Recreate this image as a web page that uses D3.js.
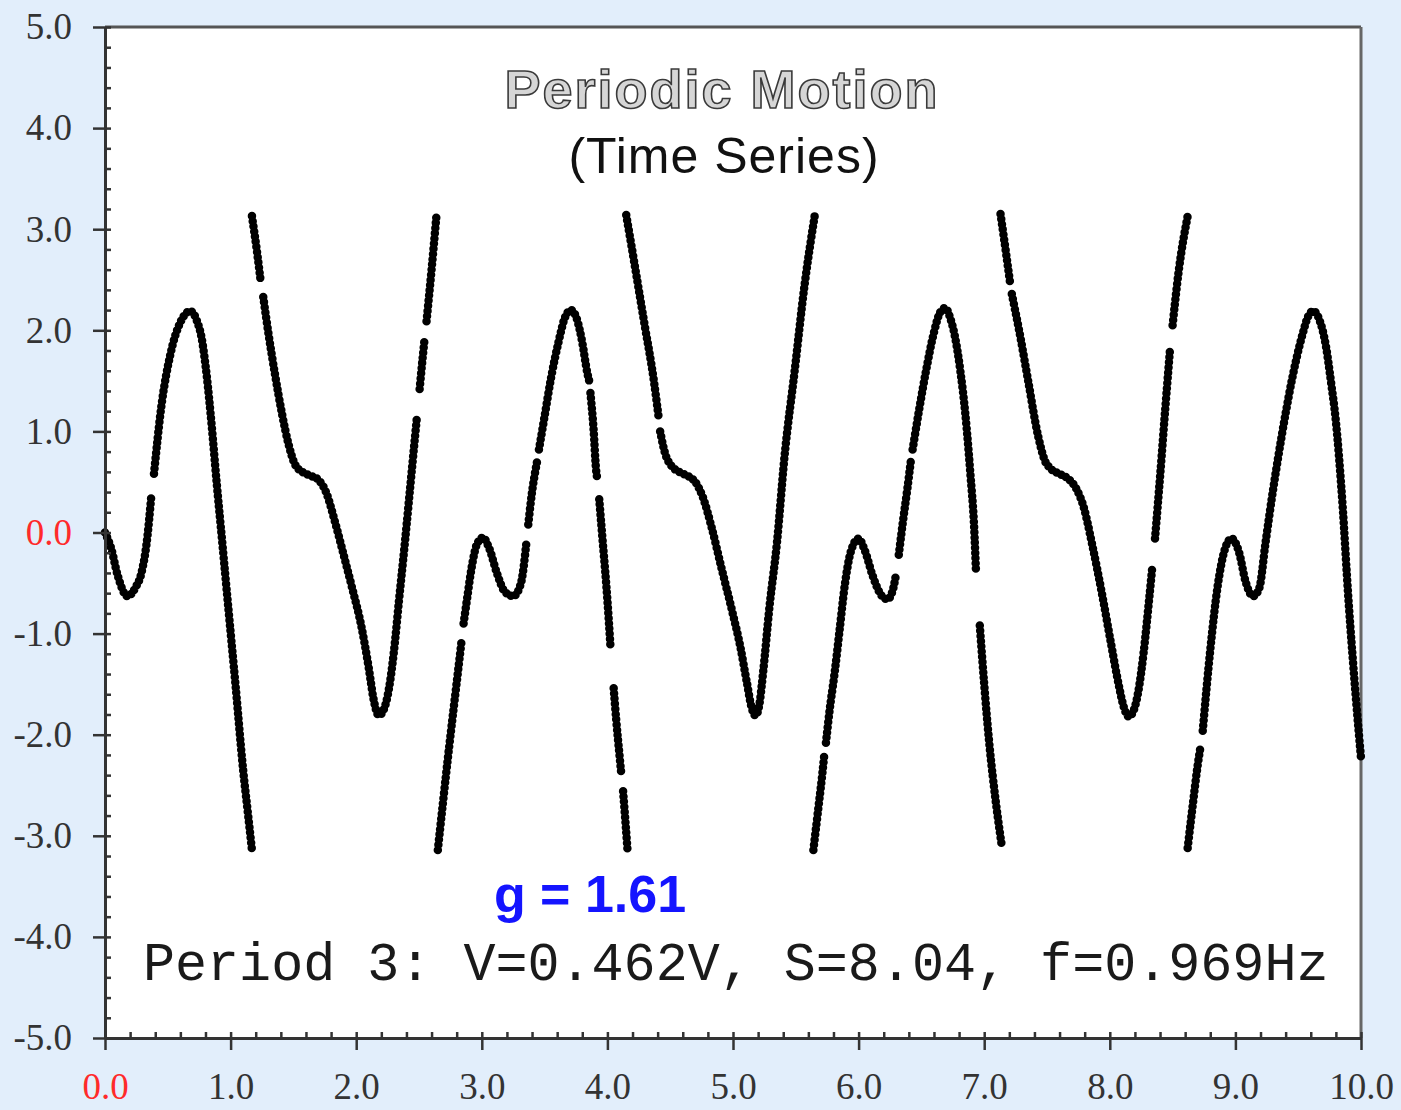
<!DOCTYPE html>
<html>
<head>
<meta charset="utf-8">
<script src="https://cdn.jsdelivr.net/npm/d3@7"></script>
<style>
  body { margin: 0; background: #e2eefb; }
  svg { display: block; }
</style>
</head>
<body>
<svg id="chart"></svg>
<script>
// pendulum angle (rad) against time (s).
// a branch stops where the angle wraps at +/- pi; null marks a small gap in the dots
const branch1 = [[0.00,0.00],[0.05,-0.16],[0.10,-0.42],[0.18,-0.63],[0.24,-0.55],[0.29,-0.40],[0.33,-0.12],[0.37,0.38],null,[0.39,0.58],[0.45,1.26],[0.52,1.76],[0.60,2.08],[0.68,2.19],[0.73,2.10],[0.77,1.92],[0.81,1.55],[0.85,1.05],[0.89,0.48],[0.93,-0.05],[0.98,-0.72],[1.04,-1.52],[1.10,-2.35],[1.14,-2.80],[1.17,-3.14]];
const branch2 = [[1.17,3.13],[1.21,2.78],[1.24,2.48],null,[1.26,2.33],[1.30,1.98],[1.35,1.59],[1.41,1.17],[1.46,0.88],[1.51,0.68],[1.57,0.60],[1.64,0.56],[1.70,0.52],[1.76,0.40],[1.83,0.11],[1.90,-0.22],[1.97,-0.56],[2.04,-0.92],[2.10,-1.34],[2.14,-1.66],[2.18,-1.81],[2.22,-1.75],[2.26,-1.55],[2.30,-1.18],[2.34,-0.68],[2.39,-0.07],[2.43,0.45],[2.47,0.97],[2.485,1.16],null,[2.505,1.42],[2.53,1.74],[2.545,1.92],null,[2.56,2.09],[2.60,2.60],[2.64,3.15]];
const branch3 = [[2.65,-3.14],[2.69,-2.68],[2.73,-2.23],[2.77,-1.80],[2.81,-1.38],[2.84,-1.06],null,[2.855,-0.90],[2.88,-0.68],[2.92,-0.34],[2.96,-0.12],[3.01,-0.05],[3.06,-0.16],[3.12,-0.40],[3.18,-0.58],[3.25,-0.63],[3.31,-0.51],[3.355,-0.10],null,[3.37,0.08],[3.40,0.40],[3.44,0.70],null,[3.455,0.82],[3.50,1.15],[3.55,1.52],[3.61,1.88],[3.66,2.12],[3.71,2.20],[3.76,2.10],[3.80,1.88],[3.84,1.58],[3.855,1.50],null,[3.865,1.38],[3.89,1.02],[3.91,0.62],[3.92,0.53],null,[3.935,0.33],[3.96,-0.05],[3.99,-0.50],[4.01,-0.85],[4.025,-1.14],null,[4.05,-1.54],[4.07,-1.85],[4.10,-2.25],[4.11,-2.38],null,[4.125,-2.56],[4.14,-2.80],[4.16,-3.14]];
const branch4 = [[4.15,3.14],[4.21,2.70],[4.29,2.10],[4.37,1.50],[4.41,1.12],null,[4.42,1.00],[4.46,0.78],[4.51,0.66],[4.57,0.60],[4.64,0.56],[4.70,0.50],[4.76,0.35],[4.83,0.05],[4.91,-0.36],[4.99,-0.76],[5.06,-1.14],[5.11,-1.48],[5.15,-1.74],[5.18,-1.81],[5.21,-1.70],[5.24,-1.38],[5.29,-0.74],[5.35,-0.10],[5.41,0.75],[5.49,1.59],[5.57,2.45],[5.65,3.13]];
const branch5 = [[5.64,-3.14],[5.68,-2.72],[5.71,-2.40],[5.725,-2.22],null,[5.74,-2.08],[5.77,-1.75],[5.81,-1.38],[5.85,-0.95],[5.89,-0.52],[5.94,-0.18],[6.00,-0.06],[6.05,-0.18],[6.11,-0.42],[6.17,-0.60],[6.23,-0.66],[6.27,-0.58],[6.30,-0.40],null,[6.32,-0.22],[6.35,0.08],[6.39,0.45],[6.415,0.70],null,[6.43,0.82],[6.48,1.20],[6.54,1.62],[6.60,1.98],[6.65,2.18],[6.69,2.22],[6.73,2.12],[6.77,1.92],[6.81,1.60],[6.85,1.17],[6.89,0.58],[6.92,0.05],[6.935,-0.40],null,[6.965,-0.92],[7.00,-1.50],[7.04,-2.08],[7.09,-2.64],[7.14,-3.10]];
const branch6 = [[7.13,3.15],[7.17,2.80],[7.205,2.48],null,[7.22,2.36],[7.29,1.92],[7.35,1.50],[7.43,0.95],[7.48,0.72],[7.53,0.63],[7.60,0.58],[7.67,0.53],[7.73,0.44],[7.79,0.26],[7.86,-0.12],[7.94,-0.62],[8.01,-1.10],[8.07,-1.50],[8.11,-1.72],[8.15,-1.82],[8.19,-1.76],[8.23,-1.55],[8.27,-1.18],[8.31,-0.70],[8.34,-0.32],null,[8.36,-0.06],[8.40,0.55],[8.44,1.20],[8.48,1.82],null,[8.50,2.05],[8.55,2.60],[8.62,3.13]];
const branch7 = [[8.62,-3.12],[8.66,-2.70],[8.70,-2.30],[8.725,-2.10],null,[8.74,-1.96],[8.80,-1.16],[8.86,-0.52],[8.92,-0.15],[8.97,-0.06],[9.03,-0.20],[9.08,-0.48],[9.14,-0.63],[9.19,-0.55],[9.24,-0.10],[9.29,0.34],[9.34,0.74],[9.40,1.18],[9.45,1.51],[9.53,1.94],[9.58,2.14],[9.62,2.19],[9.67,2.10],[9.72,1.85],[9.76,1.50],[9.80,1.10],[9.85,0.33],[9.90,-0.66],[9.96,-1.65],[10.00,-2.23]];
const branches = [branch1, branch2, branch3, branch4, branch5, branch6, branch7];

const xTickValues = [0, 1, 2, 3, 4, 5, 6, 7, 8, 9, 10];
const yTickValues = [-5, -4, -3, -2, -1, 0, 1, 2, 3, 4, 5];

const title = "Periodic Motion";
const subtitle = "(Time Series)";
const gLabel = "g = 1.61";
const periodLabel = "Period 3: V=0.462V, S=8.04, f=0.969Hz";

const width = 1401;
const height = 1110;
const margin = { top: 27, right: 40, bottom: 72, left: 105 };

const svg = d3.select("#chart")
  .attr("width", width)
  .attr("height", height);

const x = d3.scaleLinear()
  .domain([0, 10])
  .range([margin.left, width - margin.right]);

const y = d3.scaleLinear()
  .domain([-5, 5])
  .range([height - margin.bottom, margin.top]);

// plot area
svg.append("rect")
  .attr("x", x(0))
  .attr("y", y(5))
  .attr("width", x(10) - x(0))
  .attr("height", y(-5) - y(5))
  .attr("fill", "#fff");

// frame on top and right
svg.append("line")
  .attr("x1", x(0)).attr("x2", x(10))
  .attr("y1", y(5)).attr("y2", y(5))
  .attr("stroke", "#555").attr("stroke-width", 3);
svg.append("line")
  .attr("x1", x(10)).attr("x2", x(10))
  .attr("y1", y(5)).attr("y2", y(-5))
  .attr("stroke", "#666").attr("stroke-width", 3);

// titles
svg.append("text")
  .attr("x", 722).attr("y", 108)
  .attr("text-anchor", "middle")
  .attr("font-family", "Liberation Sans, Arial, sans-serif")
  .attr("font-weight", "bold")
  .attr("font-size", 54)
  .attr("letter-spacing", 2)
  .attr("fill", "#d6d6d6")
  .attr("stroke", "#3a3a3a")
  .attr("stroke-width", 1.6)
  .text(title);

svg.append("text")
  .attr("x", 724).attr("y", 173)
  .attr("text-anchor", "middle")
  .attr("font-family", "Liberation Sans, Arial, sans-serif")
  .attr("font-size", 50)
  .attr("letter-spacing", 1)
  .attr("fill", "#111")
  .text(subtitle);

// the time series, drawn as a row of dots
const line = d3.line()
  .defined(d => d !== null)
  .x(d => x(d[0]))
  .y(d => y(d[1]))
  .curve(d3.curveMonotoneX);

svg.append("g")
  .selectAll("path")
  .data(branches)
  .enter()
  .append("path")
  .attr("d", line)
  .attr("fill", "none")
  .attr("stroke", "#000")
  .attr("stroke-width", 8.5)
  .attr("stroke-linecap", "round")
  .attr("stroke-dasharray", "0 5.2");

svg.append("text")
  .attr("x", 590).attr("y", 912)
  .attr("text-anchor", "middle")
  .attr("font-family", "Liberation Sans, Arial, sans-serif")
  .attr("font-weight", "bold")
  .attr("font-size", 52)
  .attr("fill", "#1414ff")
  .text(gLabel);

svg.append("text")
  .attr("x", 143).attr("y", 980)
  .attr("font-family", "'Courier New', 'Liberation Mono', monospace")
  .attr("font-size", 53.4)
  .attr("fill", "#1a1a1a")
  .text(periodLabel);

// axes
const minorY = d3.range(-5, 5.001, 0.2);
const minorX = d3.range(0, 10.001, 0.2);
const fmt = d => d.toFixed(1);

const yAxis = svg.append("g")
  .attr("transform", `translate(${x(0)},0)`)
  .call(d3.axisLeft(y).tickValues(yTickValues).tickSize(12).tickSizeOuter(0).tickPadding(21).tickFormat(fmt));

svg.append("g")
  .attr("transform", `translate(${x(0)},0)`)
  .call(d3.axisRight(y).tickValues(minorY).tickSize(6).tickFormat(""))
  .call(g => g.select(".domain").remove());

const xAxis = svg.append("g")
  .attr("transform", `translate(0,${y(-5)})`)
  .call(d3.axisBottom(x).tickValues(xTickValues).tickSize(12).tickSizeOuter(0).tickPadding(23).tickFormat(fmt));

svg.append("g")
  .attr("transform", `translate(0,${y(-5)})`)
  .call(d3.axisTop(x).tickValues(minorX).tickSize(6).tickFormat(""))
  .call(g => g.select(".domain").remove());

svg.selectAll(".tick line").attr("stroke", "#333").attr("stroke-width", 2.5);
svg.selectAll(".domain").attr("stroke", "#333").attr("stroke-width", 3);

[yAxis, xAxis].forEach(g => {
  g.selectAll("text")
    .attr("font-family", "Liberation Serif, 'Times New Roman', serif")
    .attr("font-size", 37)
    .attr("fill", d => d === 0 ? "#ff2a2a" : "#333");
});
</script>
</body>
</html>
